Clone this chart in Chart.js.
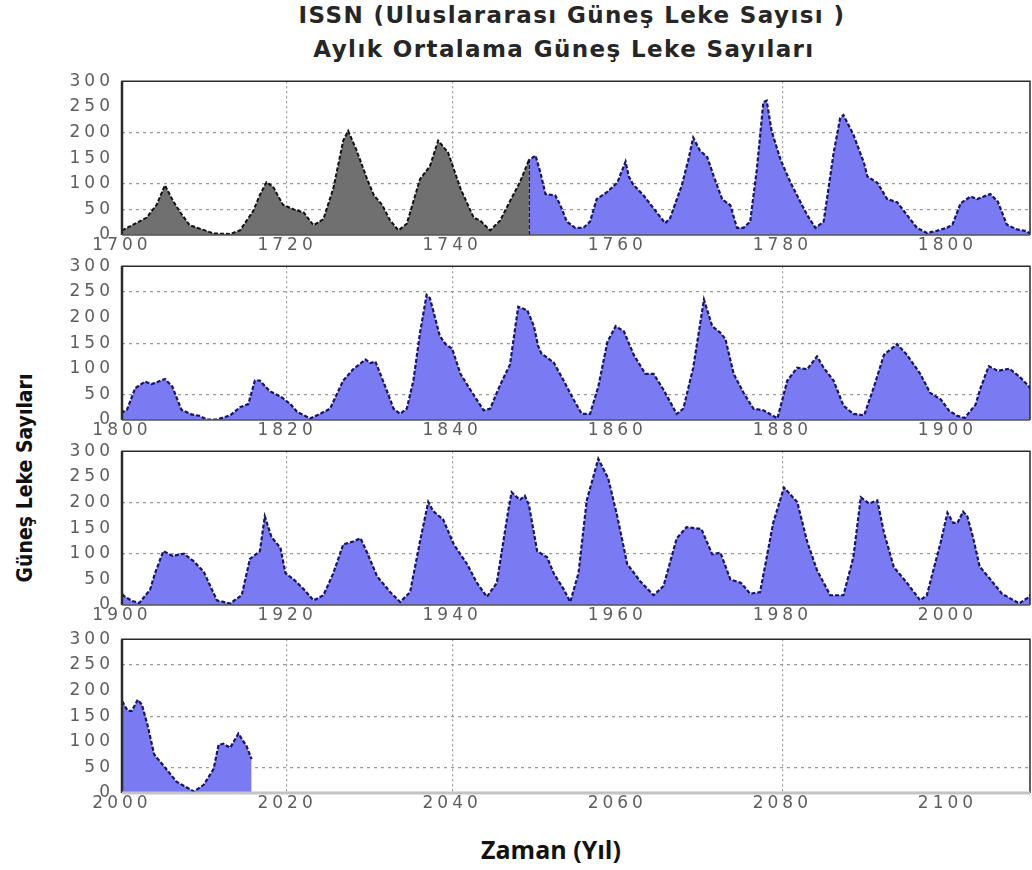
<!DOCTYPE html>
<html>
<head>
<meta charset="utf-8">
<script src="https://cdn.jsdelivr.net/npm/chart.js@4.4.1/dist/chart.umd.min.js"></script>
<style>
  body { margin: 0; background: #fff; width: 1032px; height: 870px; position: relative; overflow: hidden; }
  .panel { position: absolute; left: 0; width: 1032px; height: 196px; }
  .head { position: absolute; left: 0; text-align: center; font-family: "DejaVu Sans"; font-weight: bold; font-size: 23px; letter-spacing: 1.4px; color: #262626; white-space: nowrap; }
  #title1 { top: 2px; padding-left: 112px; width: 920px; }
  #title2 { top: 36px; padding-left: 96px; width: 936px; }
  #ytitle { position: absolute; left: 25px; top: 478px; transform: translate(-50%, -50%) rotate(-90deg); font-family: "Liberation Sans Narrow", "DejaVu Sans Condensed"; font-weight: bold; font-size: 21px; color: #111; white-space: nowrap; }
  #xtitle { position: absolute; left: 551px; top: 849px; transform: translate(-50%, -50%); font-family: "Open Sans"; font-weight: bold; font-size: 25px; color: #111; white-space: nowrap; }
</style>
</head>
<body>
<div class="head" id="title1">ISSN (Uluslararası Güneş Leke Sayısı )</div>
<div class="head" id="title2">Aylık Ortalama Güneş Leke Sayıları</div>
<div id="ytitle">Güneş Leke Sayıları</div>
<div id="xtitle">Zaman (Yıl)</div>

<div class="panel" style="top:63px"><canvas id="chart0" width="1032" height="196"></canvas></div>
<div class="panel" style="top:248px"><canvas id="chart1" width="1032" height="196"></canvas></div>
<div class="panel" style="top:433px"><canvas id="chart2" width="1032" height="196"></canvas></div>
<div class="panel" style="top:621px"><canvas id="chart3" width="1032" height="196"></canvas></div>

<script>
// yearly numbers before monthly records start (grey part)
var earlyIssn = [
  [1700, 9], [1703, 34], [1704.2, 59], [1705.2, 97], [1706.2, 66], [1707.2, 41],
  [1708.2, 19], [1709.5, 12], [1711.1, 3], [1713.1, 2], [1714.3, 9], [1715.9, 47],
  [1716.7, 78], [1717.5, 103], [1718.3, 94], [1719.5, 59], [1720.8, 50], [1722, 44],
  [1723.2, 19], [1724.4, 31], [1725.6, 91], [1726.8, 184], [1727.4, 203], [1728.4, 166],
  [1729.7, 109], [1730.5, 78], [1731.5, 59], [1732.5, 28], [1733.5, 9], [1734.5, 22],
  [1736.1, 109], [1737.3, 134], [1738.3, 184], [1739.5, 161], [1741, 91], [1742.6, 34],
  [1743.4, 28], [1744.6, 9], [1745.8, 28], [1747, 66], [1748.2, 103], [1749.3, 146]
];

// monthly mean sunspot number from 1749 on (blue part)
var issn = [
  [1749.3, 0], [1749.3, 146], [1750.1, 155], [1750.7, 121], [1751.3, 80], [1752.5, 77],
  [1753.1, 58], [1753.9, 26], [1754.9, 14], [1755.9, 14], [1756.7, 26], [1757.5, 70],
  [1758.7, 83], [1760, 102], [1761, 143], [1761.4, 114], [1761.9, 99], [1763.2, 77],
  [1764.4, 52], [1765.8, 23], [1766.4, 33], [1767.8, 96], [1768.6, 146], [1769.2, 190],
  [1770, 165], [1770.9, 152], [1771.7, 114], [1772.7, 70], [1773.7, 58], [1774.5, 14],
  [1775.3, 14], [1776.1, 26], [1776.9, 127], [1777.7, 259], [1778.1, 262], [1778.7, 203],
  [1779.8, 146], [1781, 102], [1782.2, 64], [1783, 39], [1784, 14], [1785, 26],
  [1786.2, 159], [1787, 228], [1787.4, 234], [1788.6, 196], [1789.9, 140], [1790.3, 114],
  [1791.5, 102], [1792.7, 70], [1793.9, 64], [1795.1, 39], [1796.3, 14], [1797.5, 4],
  [1798.7, 8], [1799.9, 14], [1800.6, 20], [1801.6, 62], [1802.8, 75], [1803.6, 70],
  [1805.2, 80], [1806.1, 65], [1807.2, 20], [1808.4, 11], [1809.4, 8], [1810.3, 1],
  [1811.5, 1], [1813.1, 9], [1814.3, 25], [1815.3, 31], [1816.1, 77], [1816.7, 77],
  [1817.9, 56], [1819.2, 46], [1820.4, 31], [1821.2, 16], [1822.8, 3], [1824, 12],
  [1825.2, 22], [1826.8, 77], [1828, 99], [1829.5, 118], [1830.1, 111], [1830.7, 114],
  [1831.9, 65], [1832.9, 22], [1833.7, 12], [1834.5, 22], [1835.3, 77], [1836.1, 170],
  [1836.9, 244], [1837.3, 238], [1838.5, 164], [1839.2, 148], [1840, 139], [1841, 90],
  [1842.2, 59], [1843.8, 19], [1844.6, 22], [1845.8, 68], [1847, 108], [1848, 221],
  [1849.1, 214], [1849.9, 183], [1850.4, 145], [1850.8, 130], [1852.3, 112], [1853.5, 77],
  [1854.7, 40], [1855.7, 12], [1856.7, 12], [1857.7, 65], [1858.8, 152], [1859.8, 183],
  [1860.8, 173], [1862, 127], [1863.4, 90], [1864.4, 90], [1865.6, 59], [1867.2, 12],
  [1868, 22], [1869.2, 102], [1870.5, 235], [1871.5, 183], [1872.5, 170], [1873.1, 158],
  [1874.1, 90], [1875.3, 53], [1876.5, 22], [1877.7, 19], [1879.4, 3], [1880.6, 77],
  [1881.8, 102], [1883, 99], [1884.2, 124], [1885, 102], [1886.2, 77], [1887.4, 28],
  [1888.6, 12], [1889.9, 9], [1891.1, 65], [1892.3, 127], [1893.9, 148], [1895.1, 127],
  [1896.7, 90], [1897.9, 53], [1899.2, 40], [1900.2, 18], [1901.2, 8], [1902.1, 4],
  [1903.4, 30], [1904, 62], [1905, 105], [1906.1, 96], [1907.5, 100], [1908.7, 85],
  [1909.9, 65], [1911.5, 9], [1913.1, 3], [1914.5, 19], [1915.5, 90], [1916.7, 105],
  [1917.3, 173], [1918.1, 133], [1919.2, 111], [1919.8, 62], [1920.8, 50], [1922, 31],
  [1923.2, 9], [1924.4, 19], [1925.6, 62], [1926.8, 118], [1928, 124], [1928.9, 130],
  [1929.7, 102], [1930.9, 56], [1932.5, 25], [1933.7, 6], [1934.9, 25], [1936.1, 124],
  [1937.1, 201], [1937.7, 183], [1938.9, 167], [1940.2, 118], [1941.8, 80], [1943, 43],
  [1944.2, 16], [1945.4, 43], [1946.8, 185], [1947.2, 220], [1948.2, 205], [1948.8, 213],
  [1949.3, 195], [1950.3, 105], [1951.5, 93], [1952.3, 62], [1953.5, 31], [1954.3, 6],
  [1955.3, 62], [1956.3, 204], [1957.7, 285], [1958.9, 247], [1960, 173], [1961.2, 80],
  [1962.8, 46], [1964.4, 19], [1965.6, 37], [1967.2, 130], [1968.4, 152], [1970.2, 148],
  [1971.5, 99], [1972.5, 102], [1973.7, 50], [1975, 43], [1976.1, 22], [1977.3, 25],
  [1978.9, 161], [1980.2, 229], [1981.8, 201], [1983, 124], [1984.2, 68], [1985.8, 19],
  [1987.4, 19], [1988.6, 93], [1989.5, 210], [1990.5, 198], [1991.5, 204], [1992.3, 142],
  [1993.5, 74], [1995.1, 43], [1996.7, 9], [1997.5, 19], [1999.2, 124], [2000, 180],
  [2000.7, 160], [2001.2, 160], [2001.9, 182], [2002.4, 173], [2003.1, 132], [2003.9, 75],
  [2005.2, 50], [2006.6, 22], [2008.7, 3], [2009.9, 16], [2011.1, 47], [2011.7, 94],
  [2012.3, 96], [2013.1, 88], [2014.1, 116], [2015.1, 91], [2015.7, 66]
];

// one row of the figure per 110 years
var panelRanges = [[1700, 1810], [1800, 1910], [1900, 2010], [2000, 2110]];
var panelXTicks = [
  [1700, 1720, 1740, 1760, 1780, 1800],
  [1800, 1820, 1840, 1860, 1880, 1900],
  [1900, 1920, 1940, 1960, 1980, 2000],
  [2000, 2020, 2040, 2060, 2080, 2100]
];
var yTicks = [0, 50, 100, 150, 200, 250, 300];
// dotted guide lines shown in each row
var panelHGrid = [[50, 100, 200], [50, 150, 250], [100, 200], [50, 150, 250]];
var vGridOffsets = [20, 40, 80];

function toPoints(arr) {
  return arr.map(function(p) { return { x: p[0], y: p[1] }; });
}

// wide tick digits + frame round the plot area
var panelLook = {
  id: "panelLook",
  beforeDraw: function(chart) {
    chart.ctx.letterSpacing = "4px";
  },
  afterDatasetsDraw: function(chart, args, opts) {
    var a = chart.chartArea;
    var ctx = chart.ctx;
    ctx.save();
    ctx.letterSpacing = "0px";
    ctx.strokeStyle = "#2b2b2b";
    ctx.lineWidth = 1.5;
    ctx.beginPath();
    ctx.moveTo(a.left, a.bottom);
    ctx.lineTo(a.left, a.top);
    ctx.lineTo(a.right, a.top);
    ctx.lineTo(a.right, a.bottom);
    ctx.stroke();
    ctx.lineWidth = 2.5;
    ctx.beginPath();
    ctx.moveTo(a.left, a.top);
    ctx.lineTo(a.left, a.bottom);
    ctx.stroke();
    ctx.strokeStyle = opts.bottomColor || "#555";
    ctx.lineWidth = opts.bottomWidth || 1.5;
    ctx.beginPath();
    ctx.moveTo(a.left, a.bottom);
    ctx.lineTo(a.right, a.bottom);
    ctx.stroke();
    ctx.restore();
  }
};

function drawPanel(i) {
  var range = panelRanges[i];
  var ctx = document.getElementById("chart" + i);
  var tickFont = { family: "DejaVu Sans", size: 17 };
  var last = i == panelRanges.length - 1;

  new Chart(ctx, {
    type: "line",
    data: {
      datasets: [
        {
          data: toPoints(earlyIssn),
          borderColor: "#111111",
          borderWidth: 2,
          borderDash: [4, 2],
          backgroundColor: "#707070",
          fill: "origin",
          pointRadius: 0,
          tension: 0
        },
        {
          data: toPoints(issn),
          borderColor: "#15156e",
          borderWidth: 2.2,
          borderDash: [4, 2],
          backgroundColor: "#7a7af3",
          fill: "origin",
          pointRadius: 0,
          tension: 0
        }
      ]
    },
    options: {
      responsive: false,
      animation: false,
      events: [],
      layout: { padding: { top: 12, right: 2, left: 0, bottom: 0 } },
      plugins: {
        legend: { display: false },
        tooltip: { enabled: false },
        panelLook: {
          bottomColor: last ? "#c4c4c4" : "#555",
          bottomWidth: last ? 3 : 1.5
        }
      },
      scales: {
        x: {
          type: "linear",
          min: range[0],
          max: range[1],
          afterBuildTicks: function(scale) {
            scale.ticks = panelXTicks[i].map(function(v) { return { value: v }; });
          },
          afterFit: function(scale) { scale.height = 24; },
          ticks: {
            autoSkip: false,
            maxRotation: 0,
            padding: 0,
            color: "#5e5e5e",
            font: tickFont,
            callback: function(v) { return String(v); }
          },
          border: { display: false, dash: [2, 3] },
          grid: {
            drawTicks: false,
            lineWidth: 1.2,
            color: function(c) {
              if (!c.tick) return "transparent";
              var off = c.tick.value - range[0];
              return vGridOffsets.indexOf(off) >= 0 ? "#9a9a9a" : "transparent";
            }
          }
        },
        y: {
          min: 0,
          max: 300,
          afterBuildTicks: function(scale) {
            scale.ticks = yTicks.map(function(v) { return { value: v }; });
          },
          afterFit: function(scale) { scale.width = 122; },
          ticks: {
            padding: 8,
            color: "#5e5e5e",
            font: tickFont
          },
          border: { display: false, dash: [3, 4] },
          grid: {
            drawTicks: false,
            lineWidth: 1.2,
            color: function(c) {
              if (!c.tick) return "transparent";
              return panelHGrid[i].indexOf(c.tick.value) >= 0 ? "#9a9a9a" : "transparent";
            }
          }
        }
      }
    },
    plugins: [panelLook]
  });
}

for (var i = 0; i < panelRanges.length; i++) {
  drawPanel(i);
}
</script>
</body>
</html>
